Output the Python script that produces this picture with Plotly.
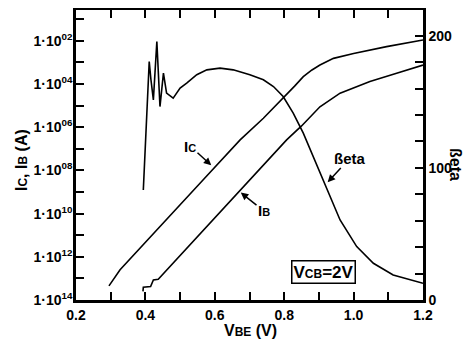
import plotly.graph_objects as go

# ---- data ----
vbe_ic = [0.295, 0.327, 0.566, 0.673, 0.740, 0.770, 0.800, 0.830, 0.855, 0.880, 0.903, 0.942, 1.000, 1.095, 1.200]
ic = [4.5e-14, 2.5e-13, 3.6e-9, 2.6e-7, 2.6e-6, 8.0e-6, 2.6e-5, 8.0e-5, 2.2e-4, 4.5e-4, 7.6e-4, 1.55e-3, 2.6e-3, 5.4e-3, 1.1e-2]

vbe_ib = [0.393, 0.394, 0.415, 0.423, 0.437, 0.701, 0.807, 0.850, 0.903, 0.961, 1.047, 1.124, 1.200]
ib = [2.5e-14, 3.9e-14, 4.2e-14, 8.5e-14, 9.1e-14, 3.6e-9, 2.6e-7, 1.15e-6, 8.9e-6, 3.8e-5, 1.3e-4, 3.2e-4, 7.6e-4]

vbe_beta = [0.394, 0.411, 0.416, 0.423, 0.433, 0.442, 0.452, 0.461, 0.480, 0.500, 0.519, 0.548,
            0.577, 0.615, 0.653, 0.701, 0.740, 0.769, 0.797, 0.826, 0.855, 0.884, 0.922, 0.961,
            1.009, 1.057, 1.114, 1.163, 1.200]
beta = [83.3, 180.5, 166.7, 151.5, 195.7, 146.4, 171.7, 156.6, 152.8, 160.4, 164.2, 170.5,
        174.2, 175.5, 174.2, 170.5, 166.7, 161.6, 154.0, 141.4, 126.3, 108.6, 85.8, 60.6,
        40.4, 27.8, 18.9, 15.2, 12.7]

x_ticks = [0.2, 0.4, 0.6, 0.8, 1.0, 1.2]
x_minor = [0.3, 0.5, 0.7, 0.9, 1.1]
y_major_exp = [2, 4, 6, 8, 10, 12, 14]
y_minor_exp = [1, 3, 5, 7, 9, 11, 13]
beta_ticks = [0, 100, 200]
beta_minor = [20, 40, 60, 80, 120, 140, 160, 180]

FONT = "Liberation Sans"
OFF = 8  # page body margin
W, H = 473 - OFF, 346 - OFF
PL, PR, PT, PB = 76, 423, 10, 300   # plot area in page pixels
L, T = PL - OFF, PT - OFF
PW, PH = PR - PL, PB - PT
R = W - L - PW
B = H - T - PH


def px(x, y):
    return (x - PL) / PW, (PB - y) / PH


fig = go.Figure()
line = dict(color="black", width=1.6)
fig.add_trace(go.Scatter(x=vbe_ic, y=ic, mode="lines", line=line, name="Ic", showlegend=False))
fig.add_trace(go.Scatter(x=vbe_ib, y=ib, mode="lines", line=line, name="Ib", showlegend=False))
fig.add_trace(go.Scatter(x=vbe_beta, y=beta, mode="lines", line=line, yaxis="y2",
                         name="Beta", showlegend=False))

tfont = dict(family=FONT, size=14, color="black", weight="bold")
tk = dict(ticks="inside", ticklen=8, tickwidth=2, tickcolor="black")

fig.update_layout(
    width=W, height=H,
    margin=dict(l=L, r=R, t=T, b=B, autoexpand=False),
    paper_bgcolor="white", plot_bgcolor="white",
    font=dict(family=FONT, color="black"),
    xaxis=dict(range=[0.2, 1.2], tickvals=x_ticks, ticktext=[f"{v:.1f}" for v in x_ticks],
               minor=dict(tickvals=x_minor, **tk), **tk,
               showline=True, linewidth=2.5, linecolor="black", mirror="ticks",
               showgrid=False, zeroline=False, tickfont=tfont, automargin=False),
    yaxis=dict(type="log", range=[-14, -0.57],
               tickvals=[10.0 ** (-e) for e in y_major_exp],
               ticktext=[f"1·10<sup>{e:02d}</sup>" for e in y_major_exp],
               minor=dict(tickvals=[10.0 ** (-e) for e in y_minor_exp], **tk), **tk,
               ticklabelstandoff=-2,
               showline=True, linewidth=2.5, linecolor="black", automargin=False,
               showgrid=False, zeroline=False, tickfont=dict(family=FONT, size=14, color="black", weight="bold")),
    yaxis2=dict(overlaying="y", side="right", range=[0, 219.5],
                tickvals=beta_ticks, ticktext=[str(v) for v in beta_ticks],
                minor=dict(tickvals=beta_minor, **tk), **tk,
                showline=True, linewidth=2.5, linecolor="black", automargin=False,
                showgrid=False, zeroline=False, tickfont=tfont),
)

ann = []
ctr = dict(xref="paper", yref="paper", showarrow=False, xanchor="center", yanchor="middle")
# axis titles
ax_, ay_ = px(250, 330)
ann.append(dict(x=ax_, y=ay_, **ctr,
                text="V<span style='font-size:12px'>BE</span> (V)",
                font=dict(family=FONT, size=16, color="black", weight="bold")))
ax_, ay_ = px(22, 160)
ann.append(dict(x=ax_, y=ay_, **ctr, textangle=-90,
                text="I<span style='font-size:12px'>C</span>, I<span style='font-size:12px'>B</span> (A)",
                font=dict(family=FONT, size=16, color="black", weight="bold")))
ax_, ay_ = px(456, 165)
ann.append(dict(x=ax_, y=ay_, **ctr, textangle=90,
                text="ßeta", font=dict(family=FONT, size=16, color="black", weight="bold")))

# curve labels with arrows
lab_font = dict(family=FONT, size=15, color="black", weight="bold")
for text, head, tail in [
    ("I<span style='font-size:11px'>C</span>", (212, 166), (190, 146)),
    ("I<span style='font-size:11px'>B</span>", (240, 192), (264, 211)),
    ("ßeta", (327, 183), (350, 158)),
]:
    hx, hy = px(*head)
    ann.append(dict(x=hx, y=hy, xref="paper", yref="paper", showarrow=True,
                    ax=tail[0] - head[0], ay=tail[1] - head[1], text=text, font=lab_font,
                    arrowhead=2, arrowsize=1, arrowwidth=1.5, arrowcolor="black", standoff=1))

bx, by = px(323, 272)
ann.append(dict(x=bx, y=by, **ctr,
                text="V<span style='font-size:12px'>CB</span>=2V",
                font=dict(family=FONT, size=17, color="black", weight="bold"),
                bordercolor="black", borderwidth=1.5, borderpad=1, bgcolor="white"))

fig.update_layout(annotations=ann)
fig.write_html("out.html")
